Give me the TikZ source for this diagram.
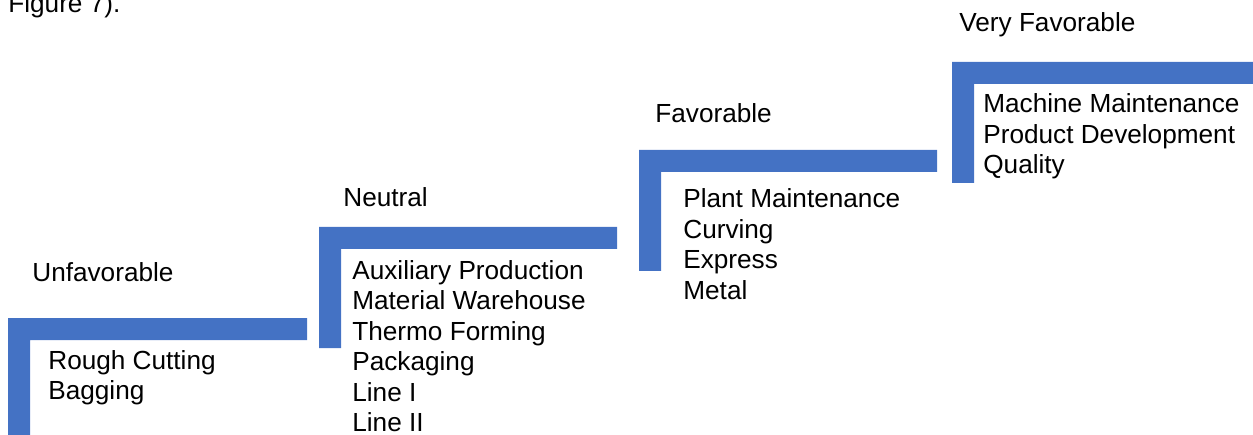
\documentclass[tikz,border=0pt]{standalone}
\usepackage{fontspec}
\setmainfont{Liberation Sans}
\usepackage{xcolor}
\definecolor{stepblue}{HTML}{4472C4}

\begin{document}
\begin{tikzpicture}[x=0.02cm, y=-0.02cm,
	bracket/.style={fill=stepblue, draw=none},
	steptext/.style={anchor=base west, inner sep=0pt, text=black,
		font=\fontsize{14.9}{17.6}\selectfont}]

	\useasboundingbox (0,0) rectangle (1253,435);

	\def\bar{22}     % thickness of the step brackets
	\def\lsep{30.5}  % distance between list lines

	% step brackets: left/top/right/bottom
	\foreach \l/\t/\r/\b in {8/318/307/435, 319/227/617/348, 639/150/937/271, 952/62/1253/183}
		\fill[bracket] (\l,\t) -- (\r,\t) -- (\r,\t+\bar) -- (\l+\bar,\t+\bar)
			-- (\l+\bar,\b) -- (\l,\b) -- cycle;

	% caption fragment
	\node[steptext] (caption) at (8,13) {Figure 7).};

	% step titles
	\node[steptext] (unfav) at (32,282) {Unfavorable};
	\node[steptext] (neutral) at (343,207) {Neutral};
	\node[steptext] (fav) at (655,123) {Favorable};
	\node[steptext] (veryfav) at (959,32) {Very Favorable};

	% department lists
	\foreach \txt [count=\k] in {Rough Cutting, Bagging}
		\node[steptext] (unfav-\k) at (48, {369+\lsep*(\k-1)}) {\txt};
	\foreach \txt [count=\k] in {Auxiliary Production, Material Warehouse, Thermo Forming, Packaging, Line I, Line II}
		\node[steptext] (neutral-\k) at (352, {279+\lsep*(\k-1)}) {\txt};
	\foreach \txt [count=\k] in {Plant Maintenance, Curving, Express, Metal}
		\node[steptext] (fav-\k) at (683, {208+\lsep*(\k-1)}) {\txt};
	\foreach \txt [count=\k] in {Machine Maintenance, Product Development, Quality}
		\node[steptext] (veryfav-\k) at (983, {113+\lsep*(\k-1)}) {\txt};

\end{tikzpicture}
\end{document}
